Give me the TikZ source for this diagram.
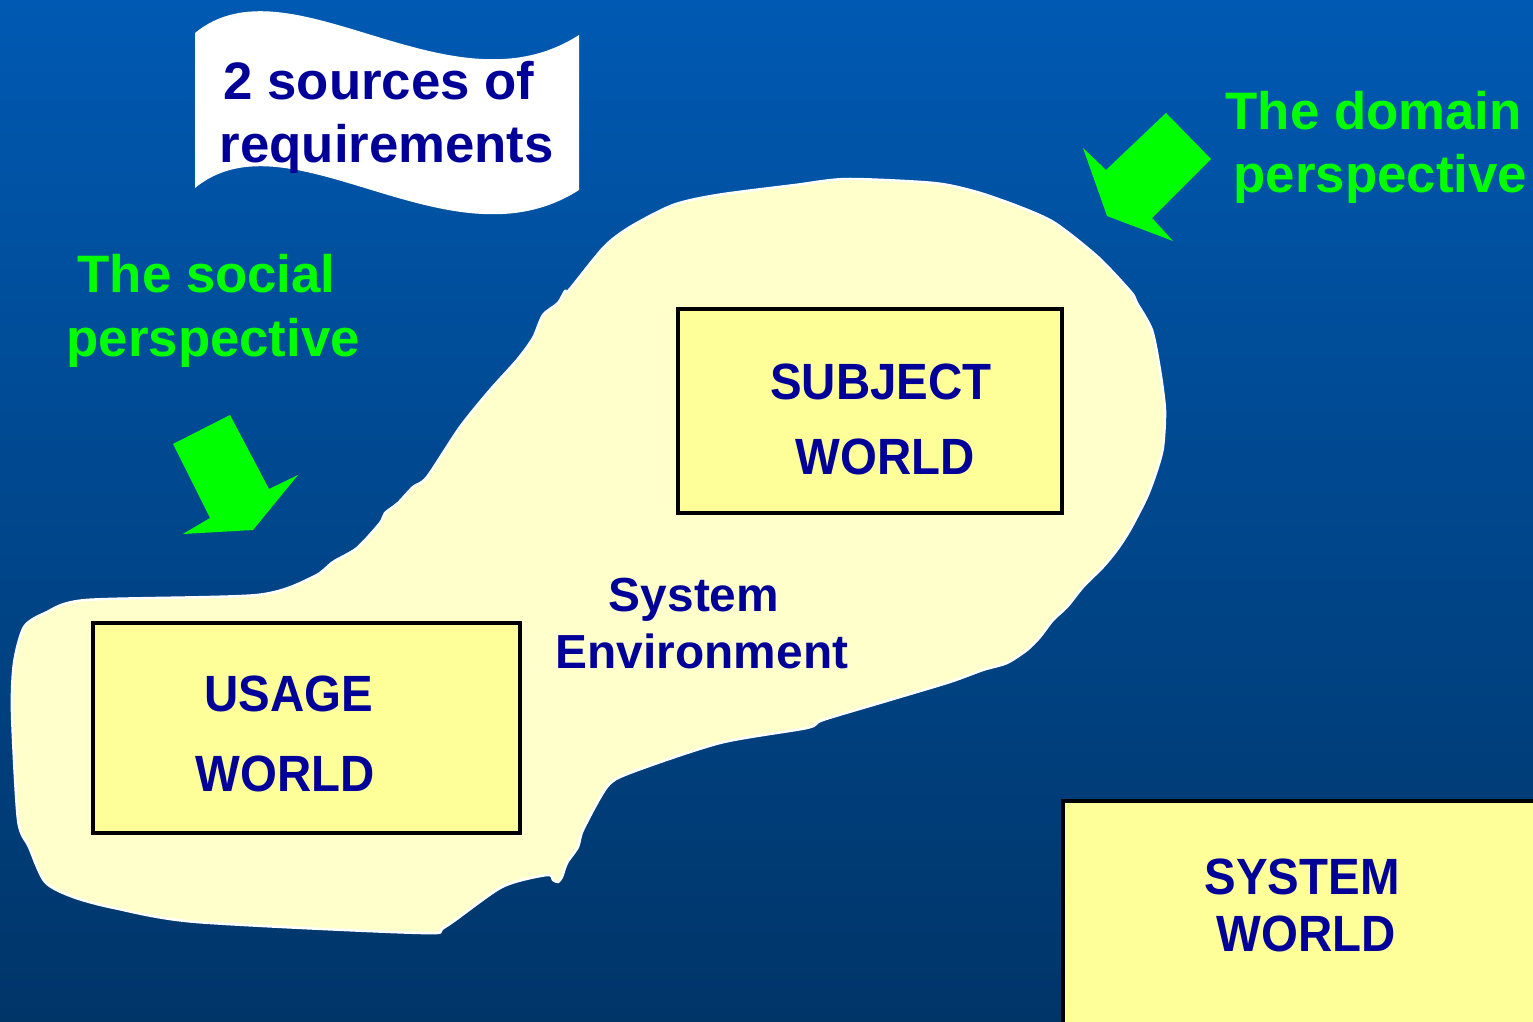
\documentclass[tikz,border=0pt]{standalone}
\usepackage{fontspec}
\setmainfont{Liberation Sans}
\newfontfamily\condsans[FakeStretch=0.93]{Liberation Sans}
\definecolor{bgtop}{RGB}{0,89,178}
\definecolor{bgbot}{RGB}{0,53,104}
\definecolor{blobfill}{RGB}{255,255,204}
\definecolor{boxfill}{RGB}{255,255,153}
\definecolor{navy}{RGB}{0,0,153}
\definecolor{brightgreen}{RGB}{0,255,0}
\tikzset{
  worldbox/.style={draw=black, line width=1pt, fill=boxfill},
  navytext/.style={text=navy, font=\condsans\fontsize{14.5}{17}\selectfont\bfseries, inner sep=0pt, anchor=base},
  envtext/.style={text=navy, font=\fontsize{13.6}{16}\selectfont\bfseries, inner sep=0pt, anchor=base},
  greentext/.style={text=brightgreen, font=\fontsize{15}{18}\selectfont\bfseries, inner sep=0pt, anchor=base west},
  bannertext/.style={text=navy, font=\fontsize{15}{18}\selectfont\bfseries, inner sep=0pt, anchor=base west},
  arrowshape/.style={fill=brightgreen, draw=none}
}
\begin{document}
\begin{tikzpicture}[x=0.01cm, y=-0.01cm]
\useasboundingbox (0,0) rectangle (1533,1022);
\clip (0,0) rectangle (1533,1022);
% background
\shade[top color=bgtop, bottom color=bgbot] (0,0) rectangle (1533,1022);

% banner
\path[fill=white] (195,33) .. controls (290,-45) and (450,118) .. (579,35)
  -- (579,190) .. controls (450,273) and (290,110) .. (195,188) -- cycle;
\node[bannertext] (ban1) at (223,100) {2 sources of};
\node[bannertext] (ban2) at (219,163) {requirements};

% system environment blob
\draw[fill=blobfill, draw=white, line width=0.7pt] plot[smooth cycle, tension=0.45] coordinates {
(86,600) (257,595) (313,577) (333,562) (357,548) (380,523) (385,513) (398,503)
(413,487) (427,477) (460,427) (490,390) (517,360) (533,338) (543,315) (558,303)
(565,291) (569,290) (604,247) (630,227) (673,205) (717,195) (795,185) (847,179)
(934,183) (977,192) (1020,207) (1055,223) (1098,257) (1131,292) (1137,303) (1152,330)
(1160,370) (1165,410) (1163,447) (1157,470) (1147,497) (1130,530) (1117,550) (1103,567)
(1083,587) (1067,607) (1053,620) (1040,637) (1027,650) (1007,663) (983,670) (950,682)
(890,700) (823,720) (807,728) (720,743) (630,773) (607,787) (583,830) (578,847)
(567,863) (562,877) (558,882) (553,880) (547,875) (502,887) (445,927) (420,933)
(196,922) (114,908) (73,897) (45,882) (29,847) (18,820) (12,713) (14,663)
(24,627) (45,613)};

% worlds
\draw[worldbox] (678,309) rectangle (1062,513);
\node[navytext] (subj1) at (881,400) {SUBJECT};
\node[navytext] (subj2) at (885,475) {WORLD};

\draw[worldbox] (93,623) rectangle (520,833);
\node[navytext] (use1) at (289,712) {USAGE};
\node[navytext] (use2) at (285,791) {WORLD};

\draw[worldbox] (1063,801) rectangle (1545,1040);
\node[navytext] (sys1) at (1302,894) {SYSTEM};
\node[navytext] (sys2) at (1306,952) {WORLD};

\node[envtext] (env1) at (694,612) {System};
\node[envtext] (env2) at (702,669) {Environment};

% perspectives
\node[greentext] (soc1) at (77,293) {The social};
\node[greentext] (soc2) at (66,357) {perspective};
\node[greentext] (dom1) at (1225,130) {The domain};
\node[greentext] (dom2) at (1233,193) {perspective};

% arrows
\path[arrowshape] (173,444) -- (230,415) -- (269,489) -- (298,475) -- (253,530) -- (183,534) -- (210,518) -- cycle;
\path[arrowshape] (1166,113) -- (1211,159) -- (1152,218) -- (1173,241) -- (1107,216) -- (1083,148) -- (1106,170) -- cycle;
\end{tikzpicture}
\end{document}
